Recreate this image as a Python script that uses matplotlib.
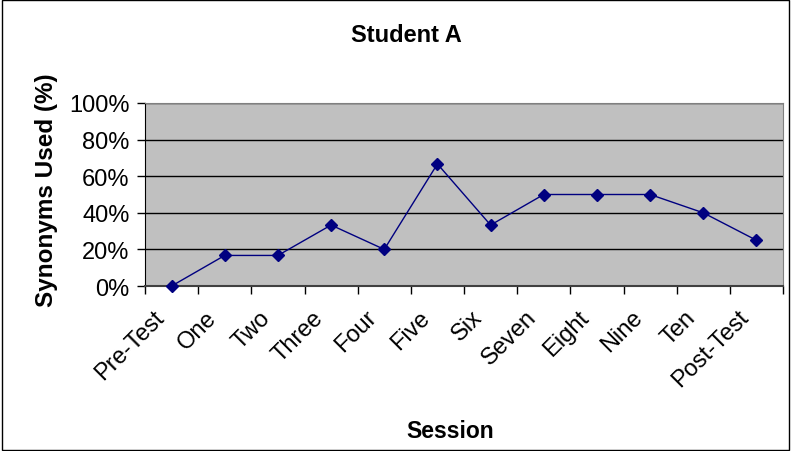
import matplotlib
matplotlib.use("Agg")
import matplotlib.pyplot as plt
from matplotlib.patches import Rectangle
from matplotlib.ticker import FixedLocator, PercentFormatter, NullFormatter
from matplotlib.transforms import ScaledTranslation

plt.rcParams['font.family'] = ['Liberation Sans', 'DejaVu Sans']

# session data
sessions = ["Pre-Test", "One", "Two", "Three", "Four", "Five", "Six",
            "Seven", "Eight", "Nine", "Ten", "Post-Test"]
synonyms_pct = [0, 16.7, 16.7, 33.3, 20, 66.7, 33.3, 50, 50, 50, 40, 25]
y_ticks = [0, 20, 40, 60, 80, 100]

W, H = 791, 452
fig = plt.figure(figsize=(W / 100, H / 100), dpi=100)
ax = fig.add_axes([145 / W, 1 - 287 / H, (783 - 145) / W, (287 - 104) / H])

ax.set_facecolor('#C0C0C0')
x = list(range(len(sessions)))
ax.plot(x, synonyms_pct, color='#000080', linewidth=1, marker='D',
        markersize=6, markerfacecolor='#000080', markeredgecolor='#000080',
        zorder=3, clip_on=False)

ax.set_xlim(-0.5, len(sessions) - 0.5)
ax.set_ylim(0, 100)
ax.set_yticks(y_ticks)
ax.yaxis.set_major_formatter(PercentFormatter(decimals=0))
ax.grid(axis='y', color='black', linewidth=1)
ax.set_axisbelow(True)

# ticks sit between categories
ax.xaxis.set_major_locator(FixedLocator([i - 0.5 for i in range(len(sessions) + 1)]))
ax.xaxis.set_major_formatter(NullFormatter())
ax.tick_params(axis='x', which='major', length=6, width=1, color='black',
               direction='out')
ax.tick_params(axis='y', length=6, width=1, direction='out', labelsize=17,
               pad=5)

# category labels, rotated and hung below each category centre
shift = ScaledTranslation(-19 / 100, -20 / 100, fig.dpi_scale_trans)
for xi, name in zip(x, sessions):
    ax.text(xi, 0, name, transform=ax.get_xaxis_transform() + shift,
            rotation=45, rotation_mode='anchor', ha='right', va='top',
            fontsize=17)

for side in ['top', 'right']:
    ax.spines[side].set_color('#808080')
ax.spines['left'].set_color('black')
ax.spines['bottom'].set_color('#404040')
ax.spines['bottom'].set_linewidth(1.5)

fig.text(406 / W, 1 - 35 / H, "Student A", fontsize=17, fontweight='bold',
         ha='center', va='center')
fig.text(47 / W, 1 - 190 / H, "Synonyms Used (%)", fontsize=17.5,
         fontweight='bold', rotation=90, ha='center', va='center')
fig.text(450 / W, 1 - 432 / H, "Session", fontsize=16.5, fontweight='bold',
         ha='center', va='center')

# chart border
fig.patches.append(Rectangle((0.003, 0.003), 0.994, 0.994, transform=fig.transFigure,
                             fill=False, edgecolor='black', linewidth=1))

fig.savefig("out.png", dpi=100)
